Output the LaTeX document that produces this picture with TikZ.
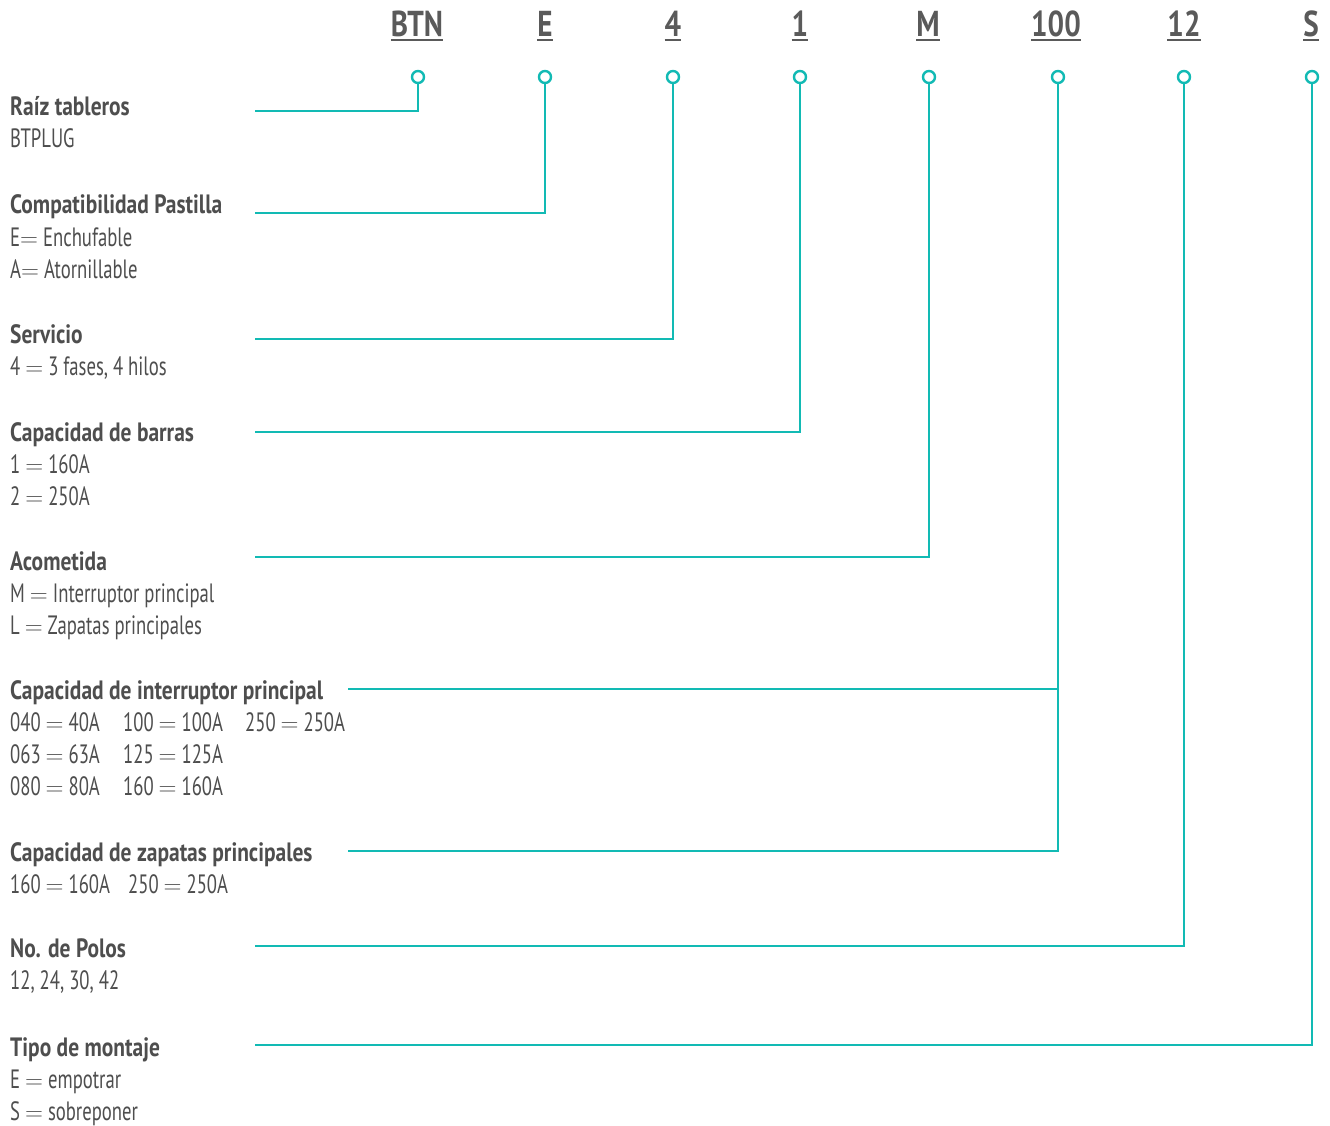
\documentclass[tikz,border=0pt]{standalone}
\usepackage{fontspec}
\setmainfont[FakeStretch=0.705, BoldFeatures={FakeStretch=0.81}]{PT Sans}
\usetikzlibrary{positioning}
\definecolor{codeteal}{RGB}{18,186,180}
\definecolor{textgray}{RGB}{78,78,78}
\definecolor{headgray}{RGB}{90,90,90}
\newcommand{\eqs}{\ensuremath{=}}

\begin{document}
\begin{tikzpicture}[
    x=1pt, y=-1pt,
    code/.style={font=\fontsize{36}{36}\selectfont\bfseries, text=headgray, anchor=base, inner sep=0pt},
    pin/.style={circle, draw=codeteal, line width=2.4pt, fill=white, minimum size=12pt, inner sep=0pt},
    wire/.style={draw=codeteal, line width=2.8pt},
    uline/.style={draw=headgray, line width=2pt},
    title/.style={font=\fontsize{26.5}{26.5}\selectfont\bfseries, text=textgray, anchor=base west, inner sep=0pt},
    item/.style={font=\fontsize{26.5}{26.5}\selectfont, text=textgray, anchor=base west, inner sep=0pt}
]
    \fill[white] (0,0) rectangle (1330,1126);
    \useasboundingbox (0,0) rectangle (1330,1126);

    % Code header
    \node[code] (hBTN) at (417,37) {BTN};
    \node[code] (hE) at (545,37) {E};
    \node[code] (h4) at (673,37) {4};
    \node[code] (h1) at (800,37) {1};
    \node[code] (hM) at (928,37) {M};
    \node[code] (h100) at (1056,37) {100};
    \node[code] (h12) at (1184,37) {12};
    \node[code] (hS) at (1311,37) {S};
    \draw[uline] ([yshift=-3pt]hBTN.base west) -- ([yshift=-3pt]hBTN.base east);
    \draw[uline] ([yshift=-3pt]hE.base west) -- ([yshift=-3pt]hE.base east);
    \draw[uline] ([yshift=-3pt]h4.base west) -- ([yshift=-3pt]h4.base east);
    \draw[uline] ([yshift=-3pt]h1.base west) -- ([yshift=-3pt]h1.base east);
    \draw[uline] ([yshift=-3pt]hM.base west) -- ([yshift=-3pt]hM.base east);
    \draw[uline] ([yshift=-3pt]h100.base west) -- ([yshift=-3pt]h100.base east);
    \draw[uline] ([yshift=-3pt]h12.base west) -- ([yshift=-3pt]h12.base east);
    \draw[uline] ([yshift=-3pt]hS.base west) -- ([yshift=-3pt]hS.base east);

    % Line ends
    \coordinate (eRaiz) at (255,111);
    \coordinate (ePast) at (255,213);
    \coordinate (eServ) at (255,339);
    \coordinate (eBarr) at (255,432);
    \coordinate (eAcom) at (255,557);
    \coordinate (eInt) at (348,689);
    \coordinate (eZap) at (348,851);
    \coordinate (ePol) at (255,946);
    \coordinate (eMon) at (255,1045);

    % Pins
    \node[pin] (pBTN) at (418,77) {};
    \node[pin] (pE) at (545,77) {};
    \node[pin] (p4) at (673,77) {};
    \node[pin] (p1) at (800,77) {};
    \node[pin] (pM) at (929,77) {};
    \node[pin] (p100) at (1058,77) {};
    \node[pin] (p12) at (1184,77) {};
    \node[pin] (pS) at (1312,77) {};

    % Connectors
    \draw[wire] (pBTN) |- (eRaiz);
    \draw[wire] (pE) |- (ePast);
    \draw[wire] (p4) |- (eServ);
    \draw[wire] (p1) |- (eBarr);
    \draw[wire] (pM) |- (eAcom);
    \draw[wire] (p100) |- (eZap);
    \draw[wire] (eInt) -| (p100);
    \draw[wire] (p12) |- (ePol);
    \draw[wire] (pS) |- (eMon);

    % Descriptions
    \node[title] (tRaiz) at (10,116) {Raíz tableros};
    \node[item] (iRaiz) at (10,148) {BTPLUG};

    \node[title] (tPast) at (10,214) {Compatibilidad Pastilla};
    \node[item] (iPastE) at (10,246) {E\eqs{} Enchufable};
    \node[item] (iPastA) at (10,278) {A\eqs{} Atornillable};

    \node[title] (tServ) at (10,343) {Servicio};
    \node[item] (iServ) at (10,375) {4 \eqs{} 3 fases, 4 hilos};

    \node[title] (tBarr) at (10,441) {Capacidad de barras};
    \node[item] (iBarr1) at (10,473) {1 \eqs{} 160A};
    \node[item] (iBarr2) at (10,505) {2 \eqs{} 250A};

    \node[title] (tAcom) at (10,570) {Acometida};
    \node[item] (iAcomM) at (10,602) {M \eqs{} Interruptor principal};
    \node[item] (iAcomL) at (10,634) {L \eqs{} Zapatas principales};

    \node[title] (tInt) at (10,699) {Capacidad de interruptor principal};
    \node[item] (iInt040) at (10,731) {040 \eqs{} 40A};
    \node[item] (iInt100) at (123,731) {100 \eqs{} 100A};
    \node[item] (iInt250) at (245,731) {250 \eqs{} 250A};
    \node[item] (iInt063) at (10,763) {063 \eqs{} 63A};
    \node[item] (iInt125) at (123,763) {125 \eqs{} 125A};
    \node[item] (iInt080) at (10,795) {080 \eqs{} 80A};
    \node[item] (iInt160) at (123,795) {160 \eqs{} 160A};

    \node[title] (tZap) at (10,861) {Capacidad de zapatas principales};
    \node[item] (iZap160) at (10,893) {160 \eqs{} 160A};
    \node[item] (iZap250) at (128,893) {250 \eqs{} 250A};

    \node[title] (tPol) at (10,957) {No. de Polos};
    \node[item] (iPol) at (10,989) {12, 24, 30, 42};

    \node[title] (tMon) at (10,1056) {Tipo de montaje};
    \node[item] (iMonE) at (10,1088) {E \eqs{} empotrar};
    \node[item] (iMonS) at (10,1120) {S \eqs{} sobreponer};
\end{tikzpicture}
\end{document}
